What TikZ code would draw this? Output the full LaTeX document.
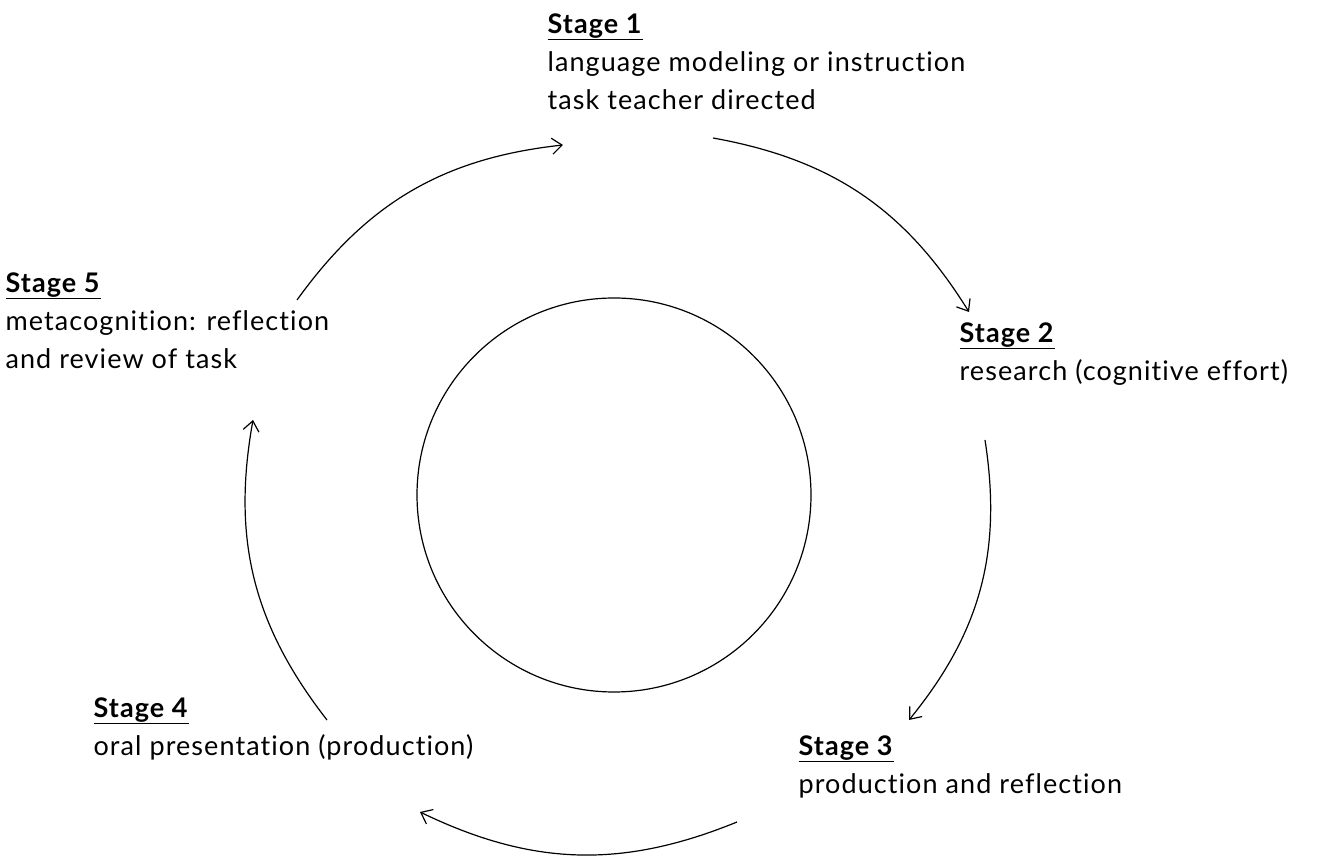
\documentclass[tikz,border=0pt]{standalone}
\usepackage{fontspec}
\setmainfont{Lato}[LetterSpace=4,Ligatures={NoCommon,NoRare,NoContextual}]
\usetikzlibrary{arrows.meta}
\tikzset{stage/.style={anchor=north west,align=left,inner sep=0pt}}
\newcommand{\stagehead}[1]{\underline{\textbf{Stage #1}}}
\begin{document}
\begin{tikzpicture}[x=1pt,y=1pt,>={Straight Barb[length=10pt,width=16pt]},line width=1.2pt,font=\fontsize{27}{38}\selectfont]
                \useasboundingbox (0,0) rectangle (1324,856);
                \node[draw,circle,minimum size=394pt,inner sep=0pt] (core) at (614,361) {};
                %===========================================
                \node[stage] (s1) at (547,843) {\stagehead{1}\\language modeling or instruction\\task teacher directed};
                \node[stage] (s2) at (959,534) {\stagehead{2}\\research (cognitive effort)};
                \node[stage] (s3) at (798,121) {\stagehead{3}\\production and reflection};
                \node[stage] (s4) at (93,159) {\stagehead{4}\\oral presentation (production)};
                \node[stage] (s5) at (5,584) {\stagehead{5}\\metacognition: reflection\\and review of task};
                %===========================================
                \coordinate (from5) at (297,556); \coordinate (to1) at (563,711);
                \coordinate (from1) at (713,718); \coordinate (to2) at (969,544);
                \coordinate (from2) at (985,416); \coordinate (to3) at (909,136);
                \coordinate (from3) at (737,34);  \coordinate (to4) at (420,44);
                \coordinate (from4) at (327,136); \coordinate (to5) at (253,436);
                \foreach \a/\b in {from5/to1,from1/to2,from2/to3,from3/to4,from4/to5}
                    \draw[->] (\a) to[bend left=24] (\b);
            \end{tikzpicture}
\end{document}
